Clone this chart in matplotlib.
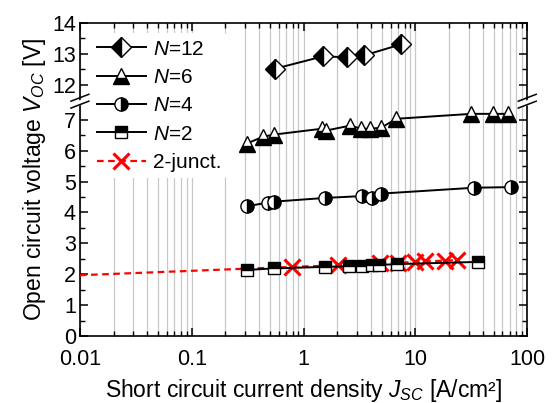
import numpy as np
import matplotlib
matplotlib.use("Agg")
import matplotlib.pyplot as plt
from matplotlib.ticker import FixedLocator, FuncFormatter, LogLocator

plt.rcParams['font.family'] = ['Liberation Sans', 'DejaVu Sans']
plt.rcParams['mathtext.fontset'] = 'custom'
plt.rcParams['mathtext.rm'] = 'Liberation Sans'
plt.rcParams['mathtext.it'] = 'Liberation Sans:italic'

# ---------------- data ----------------
n12_x = [0.556, 1.49, 2.45, 3.48, 7.45]
n12_y = [12.52, 12.92, 12.89, 12.95, 13.31]

n6_x = [0.31, 0.435, 0.545, 1.47, 1.59, 2.61, 3.27, 3.94, 4.94, 6.73, 31.5, 49.7, 67.6]
n6_y = [6.23, 6.45, 6.52, 6.71, 6.65, 6.81, 6.71, 6.71, 6.74, 7.03, 7.19, 7.19, 7.19]

n4_x = [0.31, 0.48, 0.545, 1.56, 3.34, 4.1, 4.94, 33.6, 71.9]
n4_y = [4.2, 4.32, 4.35, 4.47, 4.53, 4.48, 4.61, 4.8, 4.82]

n2_x = [0.31, 0.54, 1.56, 2.55, 3.33, 4.1, 4.7, 6.9, 36]
n2_y = [2.14, 2.19, 2.24, 2.26, 2.27, 2.29, 2.30, 2.33, 2.40]

jn_x = [0.01, 0.79, 2.04, 4.84, 7.0, 9.95, 12.2, 18.5, 23.6]
jn_y = [1.97, 2.24, 2.29, 2.35, 2.37, 2.40, 2.42, 2.44, 2.46]

y_major = [0, 1, 2, 3, 4, 5, 6, 7, 12, 13, 14]
y_minor = [0.5, 1.5, 2.5, 3.5, 4.5, 5.5, 6.5, 12.5, 13.5]
x_ticks = [0.01, 0.1, 1, 10, 100]

# broken y axis: values above the gap are shifted down
BRK_LO = 7.6
OFF = 3.87

def fwd(v):
    v = np.asarray(v, dtype=float)
    return np.where(v > 9.5, v - OFF, v)

def inv(d):
    d = np.asarray(d, dtype=float)
    return np.where(d > BRK_LO, d + OFF, d)

fig = plt.figure(figsize=(5.55, 4.03), dpi=100)
ax = fig.add_axes([0.144, 0.166, 0.806, 0.777])
ax.set_xscale('log')
ax.set_yscale('function', functions=(fwd, inv))

mk = dict(color='black', lw=1.4, mec='black', mfc='black', mew=1.0,
          markerfacecoloralt='white')

# red 2-junction curve first, so the N=2 squares sit on top
l_jn, = ax.plot(jn_x, jn_y, color='red', ls=(0, (3, 2)), lw=1.6,
                marker='x', ms=11, mew=2.2, markevery=list(range(1, len(jn_x))),
                label='2-junct.', zorder=3)
l12, = ax.plot(n12_x, n12_y, marker='D', ms=10.5, fillstyle='left',
               label='$N$=12', zorder=4, **mk)
l6, = ax.plot(n6_x, n6_y, marker='^', ms=11, fillstyle='bottom',
              label='$N$=6', zorder=4, **mk)
l4, = ax.plot(n4_x, n4_y, marker='o', ms=9.5, fillstyle='right',
              label='$N$=4', zorder=4, **mk)
l2, = ax.plot(n2_x, n2_y, marker='s', ms=8, fillstyle='top',
              label='$N$=2', zorder=4, **mk)

ax.set_xlim(0.01, 100)
ax.set_ylim(0, 14)

ax.xaxis.set_major_locator(FixedLocator(x_ticks))
ax.xaxis.set_minor_locator(LogLocator(base=10, subs=np.arange(2, 10), numticks=20))
ax.xaxis.set_major_formatter(FuncFormatter(lambda v, p: '%g' % v))
ax.yaxis.set_major_locator(FixedLocator(y_major))
ax.yaxis.set_minor_locator(FixedLocator(y_minor))
ax.yaxis.set_major_formatter(FuncFormatter(lambda v, p: '%d' % round(v)))

ax.grid(which='both', axis='x', color='#c8c8c8', lw=0.9)
ax.set_axisbelow(True)

ax.tick_params(which='both', direction='in', top=True, right=True, labelsize=15.5)
ax.tick_params(which='major', length=6, width=1.1)
ax.tick_params(which='minor', length=3.5, width=1.0)
ax.tick_params(axis='x', pad=9)
ax.tick_params(axis='y', pad=3)
for s in ax.spines.values():
    s.set_linewidth(1.2)

ax.set_xlabel('Short circuit current density $J_{SC}$ [A/cm²]', fontsize=16.5, labelpad=5)
ax.set_ylabel('Open circuit voltage $V_{OC}$ [V]', fontsize=16.5, labelpad=3)

# break marks on both side spines
yb = BRK_LO / float(fwd(14))
for xb in (0.0, 1.0):
    ax.fill([xb - 0.02, xb + 0.02, xb + 0.02, xb - 0.02],
            [yb - 0.022, yb + 0.0, yb + 0.012, yb - 0.01],
            transform=ax.transAxes, color='white', clip_on=False, zorder=10)
    for dy in (-0.011, 0.011):
        ax.plot([xb - 0.02, xb + 0.02], [yb - 0.011 + dy, yb + 0.011 + dy],
                transform=ax.transAxes, color='black', lw=1.1,
                clip_on=False, zorder=11)

leg = ax.legend(handles=[l12, l6, l4, l2, l_jn], loc='upper left',
                bbox_to_anchor=(0.0, 1.0), frameon=True, fontsize=15,
                handlelength=2.35, handletextpad=0.35, labelspacing=0.45,
                borderaxespad=0.5, numpoints=1, borderpad=0.3)
leg.get_frame().set_edgecolor('none')
leg.get_frame().set_facecolor('white')
leg.get_frame().set_alpha(1)
leg.set_zorder(8)

fig.savefig('out.png', dpi=100)
